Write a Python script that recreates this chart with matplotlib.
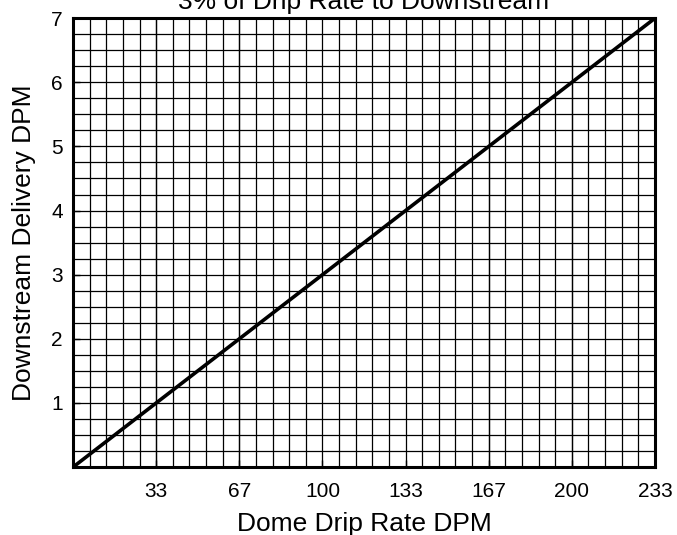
import numpy as np
import matplotlib.pyplot as plt

plt.rcParams['font.family'] = ['Liberation Sans', 'DejaVu Sans']

# Data: 3% of dome drip rate goes downstream
drip_rate = [0, 233.33]
delivery = [0, 7]

x_ticks = [33.33, 66.67, 100, 133.33, 166.67, 200, 233.33]
x_labels = ['33', '67', '100', '133', '167', '200', '233']
y_ticks = [1, 2, 3, 4, 5, 6, 7]
y_labels = ['1', '2', '3', '4', '5', '6', '7']

fig = plt.figure(figsize=(6.77, 5.35), dpi=100)
ax = fig.add_axes([0.108, 0.127, 0.8595, 0.839])

ax.plot(drip_rate, delivery, color='black', linewidth=2.6, zorder=3)

ax.set_xlim(0, 233.33)
ax.set_ylim(0, 7)

ax.set_xticks(x_ticks)
ax.set_xticklabels(x_labels)
ax.set_yticks(y_ticks)
ax.set_yticklabels(y_labels)

# fine grid like graph paper
ax.set_xticks(np.arange(0, 233.4, 233.33 / 35), minor=True)
ax.set_yticks(np.arange(0, 7.01, 0.25), minor=True)
ax.grid(which='both', color='black', linewidth=0.9)
ax.tick_params(which='minor', length=0)
ax.tick_params(which='major', direction='in', length=5, width=1,
               labelsize=15, color='black')
ax.tick_params(axis='x', pad=11)
ax.tick_params(axis='y', pad=7.5)

for s in ax.spines.values():
    s.set_linewidth(2.2)

ax.set_xlabel('Dome Drip Rate DPM', fontsize=19, labelpad=7.5)
ax.set_ylabel('Downstream Delivery DPM', fontsize=19, labelpad=11)
ax.set_title('3% of Drip Rate to Downstream', fontsize=19, y=1.0, pad=6.5)

plt.savefig('out.png', dpi=100)
